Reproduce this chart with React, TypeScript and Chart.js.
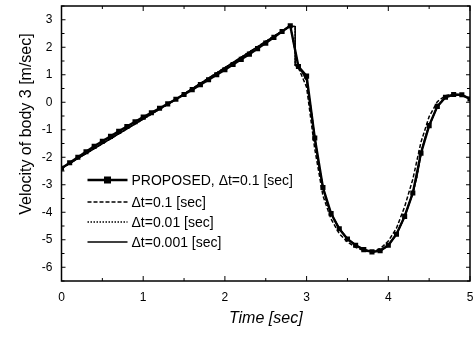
import React, { useEffect, useRef } from 'react';
import { Chart, registerables } from 'chart.js';

Chart.register(...registerables);

// ---- data ----
const proposedT = [
  0.0, 0.1, 0.2, 0.3, 0.4, 0.5, 0.6, 0.7, 0.8, 0.9,
  1.0, 1.1, 1.2, 1.3, 1.4, 1.5, 1.6, 1.7, 1.8, 1.9,
  2.0, 2.1, 2.2, 2.3, 2.4, 2.5, 2.6, 2.7, 2.8, 2.9,
  3.0, 3.1, 3.2, 3.3, 3.4, 3.5, 3.6, 3.7, 3.8, 3.9,
  4.0, 4.1, 4.2, 4.3, 4.4, 4.5, 4.6, 4.7, 4.8, 4.9, 5.0,
];
const proposedV = [
  -2.40, -2.20, -2.00, -1.80, -1.60, -1.42, -1.24, -1.06, -0.88, -0.71,
  -0.54, -0.38, -0.22, -0.06, 0.11, 0.28, 0.46, 0.64, 0.82, 1.00,
  1.18, 1.37, 1.56, 1.75, 1.95, 2.15, 2.36, 2.57, 2.78, 1.30,
  0.95, -1.30, -3.10, -4.05, -4.60, -4.97, -5.20, -5.36, -5.44, -5.40,
  -5.20, -4.80, -4.15, -3.30, -1.85, -0.85, -0.15, 0.18, 0.28, 0.27, 0.12,
];

const dt01T = [
  0.0, 1.4, 2.8, 2.9, 3.0, 3.1, 3.2, 3.3, 3.4, 3.5, 3.6, 3.7, 3.8, 3.9,
  4.0, 4.1, 4.2, 4.3, 4.4, 4.5, 4.6, 4.7, 4.8, 4.9, 5.0,
];
const dt01V = [
  -2.40, 0.11, 2.78, 1.25, 0.55, -1.70, -3.40, -4.25, -4.78, -5.08, -5.28, -5.40, -5.44, -5.33,
  -5.05, -4.58, -3.80, -2.80, -1.45, -0.52, 0.02, 0.24, 0.30, 0.26, 0.12,
];

const refT = [
  0.0, 1.4, 2.8, 2.86, 2.86, 2.9, 2.95, 3.0, 3.05, 3.1, 3.15, 3.2, 3.25, 3.3,
  3.4, 3.5, 3.6, 3.7, 3.8, 3.9, 4.0, 4.1, 4.2, 4.3, 4.35, 4.4, 4.45, 4.5,
  4.6, 4.7, 4.8, 4.9, 5.0,
];
const dt001V = [
  -2.40, 0.11, 2.78, 2.75, 1.35, 1.25, 1.08, 0.80, -0.20, -1.30, -2.30, -3.10, -3.65, -4.05,
  -4.60, -4.97, -5.20, -5.36, -5.44, -5.40, -5.20, -4.80, -4.15, -3.30, -2.70, -1.85, -1.30, -0.85,
  -0.15, 0.18, 0.28, 0.27, 0.12,
];
const dt0001V = [
  -2.40, 0.11, 2.78, 2.75, 1.35, 1.25, 1.08, 0.80, -0.20, -1.30, -2.30, -3.10, -3.65, -4.05,
  -4.60, -4.97, -5.20, -5.36, -5.44, -5.40, -5.20, -4.80, -4.15, -3.30, -2.70, -1.85, -1.30, -0.85,
  -0.15, 0.18, 0.28, 0.27, 0.12,
];

const seriesLabels = [
  'PROPOSED, \u0394t=0.1 [sec]',
  '\u0394t=0.1 [sec]',
  '\u0394t=0.01 [sec]',
  '\u0394t=0.001 [sec]',
];

const xTickValues = [0, 1, 2, 3, 4, 5];
const yTickValues = [-6, -5, -4, -3, -2, -1, 0, 1, 2, 3];
const xMarkValues = [0, 0.5, 1, 1.5, 2, 2.5, 3, 3.5, 4, 4.5, 5];
const yMarkValues = [-6.5, -6, -5.5, -5, -4.5, -4, -3.5, -3, -2.5, -2, -1.5, -1, -0.5, 0, 0.5, 1, 1.5, 2, 2.5, 3, 3.5];

const xTitle = 'Time [sec]';
const yTitle = 'Velocity of body 3 [m/sec]';

const FONT = '"Liberation Sans", Arial, Helvetica, sans-serif';

const toPoints = (t: number[], v: number[]) => t.map((x, i) => ({ x, y: v[i] }));

const framePlugin = {
  id: 'frameTicksLegend',
  afterDraw(chart: any) {
    const { ctx, chartArea: a, scales } = chart;
    const xs = scales.x;
    const ys = scales.y;
    ctx.save();
    ctx.strokeStyle = '#000';
    ctx.setLineDash([]);
    ctx.lineWidth = 1.5;
    ctx.strokeRect(a.left, a.top, a.right - a.left, a.bottom - a.top);
    ctx.lineWidth = 1;
    const seg = (x1: number, y1: number, x2: number, y2: number) => {
      ctx.beginPath();
      ctx.moveTo(x1, y1);
      ctx.lineTo(x2, y2);
      ctx.stroke();
    };
    for (const v of xMarkValues) {
      const px = xs.getPixelForValue(v);
      const len = Number.isInteger(v) ? 5 : 3;
      seg(px, a.bottom, px, a.bottom - len);
      seg(px, a.top, px, a.top + len);
    }
    for (const v of yMarkValues) {
      const py = ys.getPixelForValue(v);
      const len = Number.isInteger(v) ? 4 : 3;
      seg(a.left, py, a.left + len, py);
      seg(a.right, py, a.right - len, py);
    }

    // legend
    const lx1 = a.left + 26;
    const lx2 = a.left + 66;
    const tx = a.left + 70;
    const rows = [180, 202, 222, 242];
    ctx.fillStyle = '#000';
    ctx.font = `14px ${FONT}`;
    ctx.textAlign = 'left';
    ctx.textBaseline = 'middle';
    rows.forEach((ry, i) => {
      ctx.save();
      if (i === 0) {
        ctx.lineWidth = 2.4;
      } else if (i === 1) {
        ctx.lineWidth = 1.5;
        ctx.setLineDash([4, 2]);
      } else if (i === 2) {
        ctx.lineWidth = 1.5;
        ctx.setLineDash([1.5, 1.5]);
      } else {
        ctx.lineWidth = 1.6;
      }
      seg(lx1, ry, lx2, ry);
      ctx.restore();
      if (i === 0) {
        const mx = (lx1 + lx2) / 2;
        ctx.fillRect(mx - 3.5, ry - 3.5, 7, 7);
      }
      ctx.fillText(seriesLabels[i], tx, ry + 1);
    });

    // y axis title
    ctx.translate(27, 124);
    ctx.rotate(-Math.PI / 2);
    ctx.font = `16px ${FONT}`;
    ctx.textAlign = 'center';
    ctx.textBaseline = 'middle';
    ctx.fillText(yTitle, 0, 0);
    ctx.restore();
  },
};

export default function App() {
  const ref = useRef<HTMLCanvasElement | null>(null);
  useEffect(() => {
    if (!ref.current) return;
    const chart = new Chart(ref.current, {
      type: 'line',
      data: {
        datasets: [
          {
            label: seriesLabels[0],
            data: toPoints(proposedT, proposedV),
            borderColor: '#000',
            backgroundColor: '#000',
            borderWidth: 2.4,
            pointStyle: 'rect',
            pointRadius: 3.6,
            pointBorderWidth: 0,
            tension: 0,
          },
          {
            label: seriesLabels[1],
            data: toPoints(dt01T, dt01V),
            borderColor: '#000',
            borderWidth: 1.5,
            borderDash: [4, 2],
            pointRadius: 0,
            tension: 0,
          },
          {
            label: seriesLabels[2],
            data: toPoints(refT, dt001V),
            borderColor: '#000',
            borderWidth: 1.5,
            borderDash: [1.5, 1.5],
            pointRadius: 0,
            tension: 0,
          },
          {
            label: seriesLabels[3],
            data: toPoints(refT, dt0001V),
            borderColor: '#000',
            borderWidth: 1.6,
            pointRadius: 0,
            tension: 0,
          },
        ],
      },
      options: {
        animation: false,
        responsive: false,
        layout: { padding: { left: 0, top: 6, right: 5, bottom: 0 } },
        plugins: {
          legend: { display: false },
          tooltip: { enabled: false },
        },
        scales: {
          x: {
            type: 'linear',
            min: 0,
            max: 5,
            grid: { display: false, drawTicks: false },
            border: { display: false },
            afterBuildTicks: (s: any) => {
              s.ticks = xTickValues.map((v) => ({ value: v }));
            },
            afterFit: (s: any) => {
              s.height = 56;
              s.paddingLeft = 0;
              s.paddingRight = 0;
            },
            ticks: {
              color: '#000',
              font: { family: FONT, size: 12 },
              padding: 9,
              maxRotation: 0,
            },
            title: {
              display: true,
              text: xTitle,
              color: '#000',
              font: { family: FONT, size: 16, style: 'italic' },
              padding: { top: 0, bottom: 9 },
            },
          },
          y: {
            type: 'linear',
            min: -6.5,
            max: 3.5,
            grid: { display: false, drawTicks: false },
            border: { display: false },
            afterBuildTicks: (s: any) => {
              s.ticks = yTickValues.map((v) => ({ value: v }));
            },
            afterFit: (s: any) => {
              s.width = 61.5;
              s.paddingTop = 0;
              s.paddingBottom = 0;
            },
            ticks: {
              color: '#000',
              font: { family: FONT, size: 12 },
              padding: 9,
            },
          },
        },
      },
      plugins: [framePlugin],
    });
    return () => chart.destroy();
  }, []);
  return (
    <canvas
      ref={ref}
      width={475}
      height={337}
      style={{ position: 'absolute', left: 0, top: 0, display: 'block', background: '#fff' }}
    />
  );
}
